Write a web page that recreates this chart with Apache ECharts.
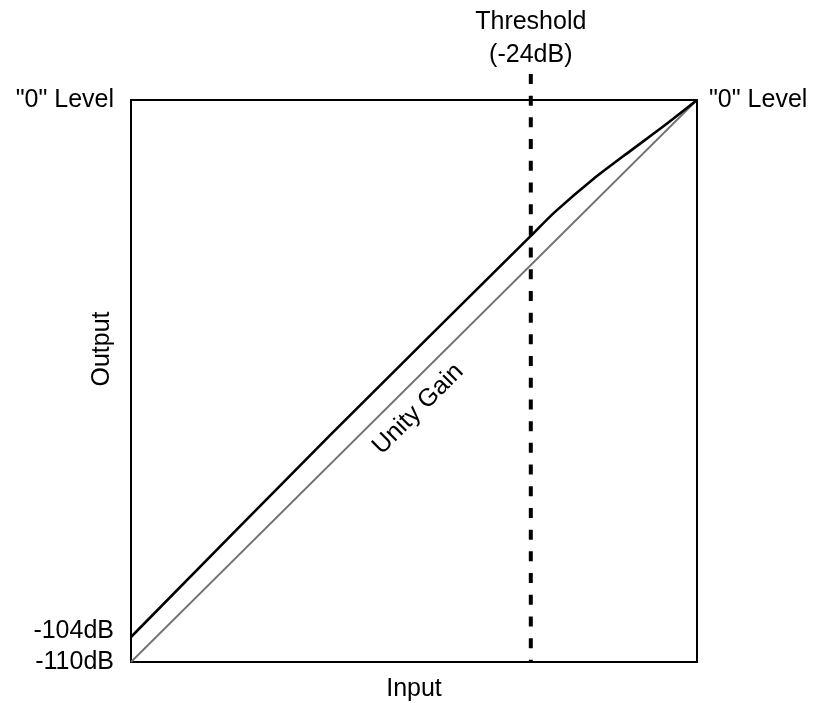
<!DOCTYPE html>
<html>
<head>
<meta charset="utf-8">
<script src="https://cdn.jsdelivr.net/npm/echarts@6/dist/echarts.min.js"></script>
<style>html,body{margin:0;padding:0;background:#fff}#c{width:816px;height:703px}</style>
</head>
<body>
<div id="c"></div>
<script>
// Input (dB) positions; the chart is schematic
const unityInput = [-110, 0];
const unityOutput = [-110, 0];
const compInput = [-110, -71.3, -32.3, -27.6, -20.2, -13.0, -6.2, 0];
const compOutput = [-105.1, -65.6, -26.6, -21.9, -15.5, -10.0, -4.9, 0];
const thresholdInput = [-32.3, -32.3];
const thresholdOutput = [5.1, -110];
const yTickValues = [-110, -104, 0];
const yTickLabels = ['-110dB', '-104dB', '"0" Level'];
const xEndLabel = '"0" Level';
const xName = 'Input';
const yName = 'Output';
const thresholdLabel = 'Threshold\n(-24dB)';
const unityLabel = 'Unity Gain';

const FONT = 'Liberation Sans, Arial, sans-serif';
const FS = 25;
const zip = (a, b) => a.map((v, i) => [v, b[i]]);

const chart = echarts.init(document.getElementById('c'), null, {renderer: 'canvas'});
chart.setOption({
  animation: false,
  backgroundColor: '#fff',
  textStyle: {fontFamily: FONT},
  grid: {left: 131, right: 119, top: 100, bottom: 41, outerBoundsMode: 'none', containLabel: false,
         show: true, borderColor: '#000', borderWidth: 2, backgroundColor: 'transparent'},
  xAxis: [{
    type: 'value', min: -110, max: 0,
    axisLine: {show: false}, axisTick: {show: false}, axisLabel: {show: false}, splitLine: {show: false},
    name: xEndLabel, nameLocation: 'end', nameGap: 12, nameMoveOverlap: false,
    nameTextStyle: {fontSize: FS, color: '#000', fontFamily: FONT}
  }, {
    type: 'value', min: -110, max: 0, position: 'bottom',
    axisLine: {show: false}, axisTick: {show: false}, axisLabel: {show: false}, splitLine: {show: false},
    name: xName, nameLocation: 'middle', nameGap: 15, nameMoveOverlap: false,
    nameTextStyle: {fontSize: FS, color: '#000', fontFamily: FONT, verticalAlign: 'top'}
  }, {
    type: 'value', min: -110, max: 0, position: 'top',
    axisLine: {show: false}, axisTick: {show: false}, splitLine: {show: false},
    axisLabel: {
      show: true, customValues: [thresholdInput[0]], margin: 28, hideOverlap: false,
      fontSize: FS, lineHeight: 33, color: '#000', fontFamily: FONT, align: 'center',
      formatter: () => thresholdLabel
    }
  }],
  yAxis: [{
    type: 'value', min: -110, max: 0,
    axisLine: {show: false}, axisTick: {show: false}, splitLine: {show: false},
    axisLabel: {
      show: true, customValues: yTickValues, margin: 17, hideOverlap: false,
      fontSize: FS, color: '#000', fontFamily: FONT,
      formatter: v => { const i = yTickValues.indexOf(v); return i >= 0 ? yTickLabels[i] : ''; }
    },
    name: yName, nameLocation: 'middle', nameGap: 29, nameRotate: 90, nameMoveOverlap: false,
    nameTextStyle: {fontSize: FS, color: '#000', fontFamily: FONT, verticalAlign: 'middle', padding: [0, 0, 0, 64]}
  }],
  series: [{
    type: 'line', data: zip(unityInput, unityOutput), symbol: 'none',
    lineStyle: {color: '#767171', width: 1.8},
    markPoint: {
      symbol: 'circle', symbolSize: 0,
      data: [{coord: [-54.2, -60.5]}],
      label: {show: true, formatter: unityLabel, rotate: 45, position: 'inside', fontSize: FS, color: '#000', fontFamily: FONT}
    }
  }, {
    type: 'line', data: zip(compInput, compOutput), symbol: 'none', smooth: 0.25,
    lineStyle: {color: '#000', width: 2.6}
  }, {
    type: 'line', data: zip(thresholdInput, thresholdOutput), symbol: 'none', clip: false,
    lineStyle: {color: '#000', width: 4, type: [10, 11.7]}
  }]
});
</script>
</body>
</html>
